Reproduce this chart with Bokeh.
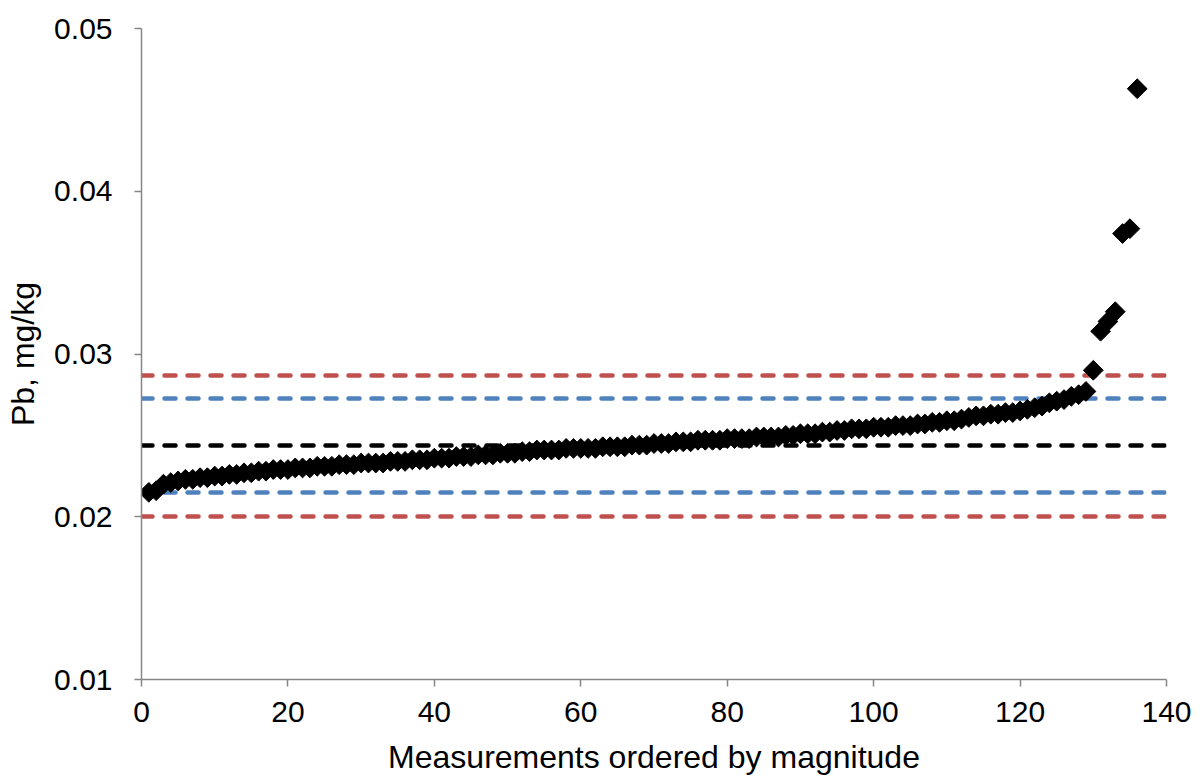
import math
from bokeh.plotting import figure
from bokeh.models import Range1d, FixedTicker, Span, ColumnDataSource
from bokeh.embed import file_html
from bokeh.resources import INLINE

# ---- data ----
pb_values = [
    0.0215, 0.0216, 0.0220, 0.0221, 0.0222, 0.0223, 0.0223, 0.0224, 0.0224, 0.0225,
    0.0225, 0.0226, 0.0226, 0.0227, 0.0227, 0.0228, 0.0228, 0.0229, 0.0229, 0.0229,
    0.0230, 0.0230, 0.0230, 0.0231, 0.0231, 0.0231, 0.0232, 0.0232, 0.0232, 0.0233,
    0.0233, 0.0233, 0.0233, 0.0234, 0.0234, 0.0234, 0.0235, 0.0235, 0.0235, 0.0236,
    0.0236, 0.0236, 0.0237, 0.0237, 0.0237, 0.0238, 0.0238, 0.0238, 0.0239, 0.0239,
    0.0239, 0.0240, 0.0240, 0.0241, 0.0241, 0.0241, 0.0241, 0.0242, 0.0242, 0.0242,
    0.0242, 0.0242, 0.0243, 0.0243, 0.0243, 0.0243, 0.0244, 0.0244, 0.0244, 0.0245,
    0.0245, 0.0245, 0.0246, 0.0246, 0.0246, 0.0247, 0.0247, 0.0247, 0.0247, 0.0248,
    0.0248, 0.0248, 0.0248, 0.0249, 0.0249, 0.0249, 0.0249, 0.0250, 0.0250, 0.0251,
    0.0251, 0.0251, 0.0252, 0.0252, 0.0253, 0.0253, 0.0254, 0.0254, 0.0254, 0.0255,
    0.0255, 0.0255, 0.0256, 0.0256, 0.0256, 0.0257, 0.0257, 0.0258, 0.0258, 0.0259,
    0.0259, 0.0260, 0.0261, 0.0262, 0.0262, 0.0263, 0.0263, 0.0264, 0.0264, 0.0265,
    0.0266, 0.0267, 0.0268, 0.0270, 0.0271, 0.0272, 0.0274, 0.0275, 0.0277, 0.0290,
    0.0314, 0.0320, 0.0326, 0.0374, 0.0377, 0.0463,
]
rank = list(range(1, len(pb_values) + 1))

ref_levels = [0.02002, 0.02149, 0.02438, 0.02727, 0.02868]
ref_colors = ["#C0504D", "#4F81BD", "#000000", "#4F81BD", "#C0504D"]

x_ticks = [0, 20, 40, 60, 80, 100, 120, 140]
y_ticks = [0.01, 0.02, 0.03, 0.04, 0.05]
y_tick_labels = ["0.01", "0.02", "0.03", "0.04", "0.05"]

FONT = "Liberation Sans"
AXIS_COLOR = "#868686"

p = figure(
    frame_width=1025, frame_height=651,
    min_border_left=141, min_border_right=38, min_border_top=28, min_border_bottom=101,
    x_range=Range1d(0, 140), y_range=Range1d(0.01, 0.05),
    output_backend="svg", toolbar_location=None,
)
p.outline_line_color = None
p.xgrid.visible = False
p.ygrid.visible = False
p.background_fill_color = "white"
p.border_fill_color = "white"

for lvl, col in zip(ref_levels, ref_colors):
    p.add_layout(Span(location=lvl, dimension="width", line_color=col,
                      line_width=4.5, line_dash="11 12", line_cap="round",
                      level="underlay"))

src = ColumnDataSource(dict(x=rank, y=pb_values))
p.scatter("x", "y", source=src, marker="square", size=14, angle=math.pi / 4,
          fill_color="black", line_color="black")

for ax in (p.xaxis[0], p.yaxis[0]):
    ax.axis_line_color = AXIS_COLOR
    ax.axis_line_width = 1.5
    ax.major_tick_line_color = AXIS_COLOR
    ax.major_tick_line_width = 1.5
    ax.major_tick_out = 7
    ax.major_tick_in = 0
    ax.minor_tick_line_color = None
    ax.major_label_text_font = FONT
    ax.major_label_text_font_size = "30px"
    ax.major_label_text_color = "black"
    ax.axis_label_text_font = FONT
    ax.axis_label_text_font_size = "32px"
    ax.axis_label_text_font_style = "normal"
    ax.axis_label_text_color = "black"

p.xaxis.ticker = FixedTicker(ticks=x_ticks)
p.yaxis.ticker = FixedTicker(ticks=y_ticks)
p.yaxis.major_label_overrides = {t: l for t, l in zip(y_ticks, y_tick_labels)}
p.xaxis.axis_label = "Measurements ordered by magnitude"
p.yaxis.axis_label = "Pb, mg/kg"
p.yaxis.major_label_standoff = 22
p.xaxis.major_label_standoff = 15
p.xaxis.axis_label_standoff = 14
p.yaxis.axis_label_standoff = 10

open("out.html", "w").write(file_html(p, INLINE))
